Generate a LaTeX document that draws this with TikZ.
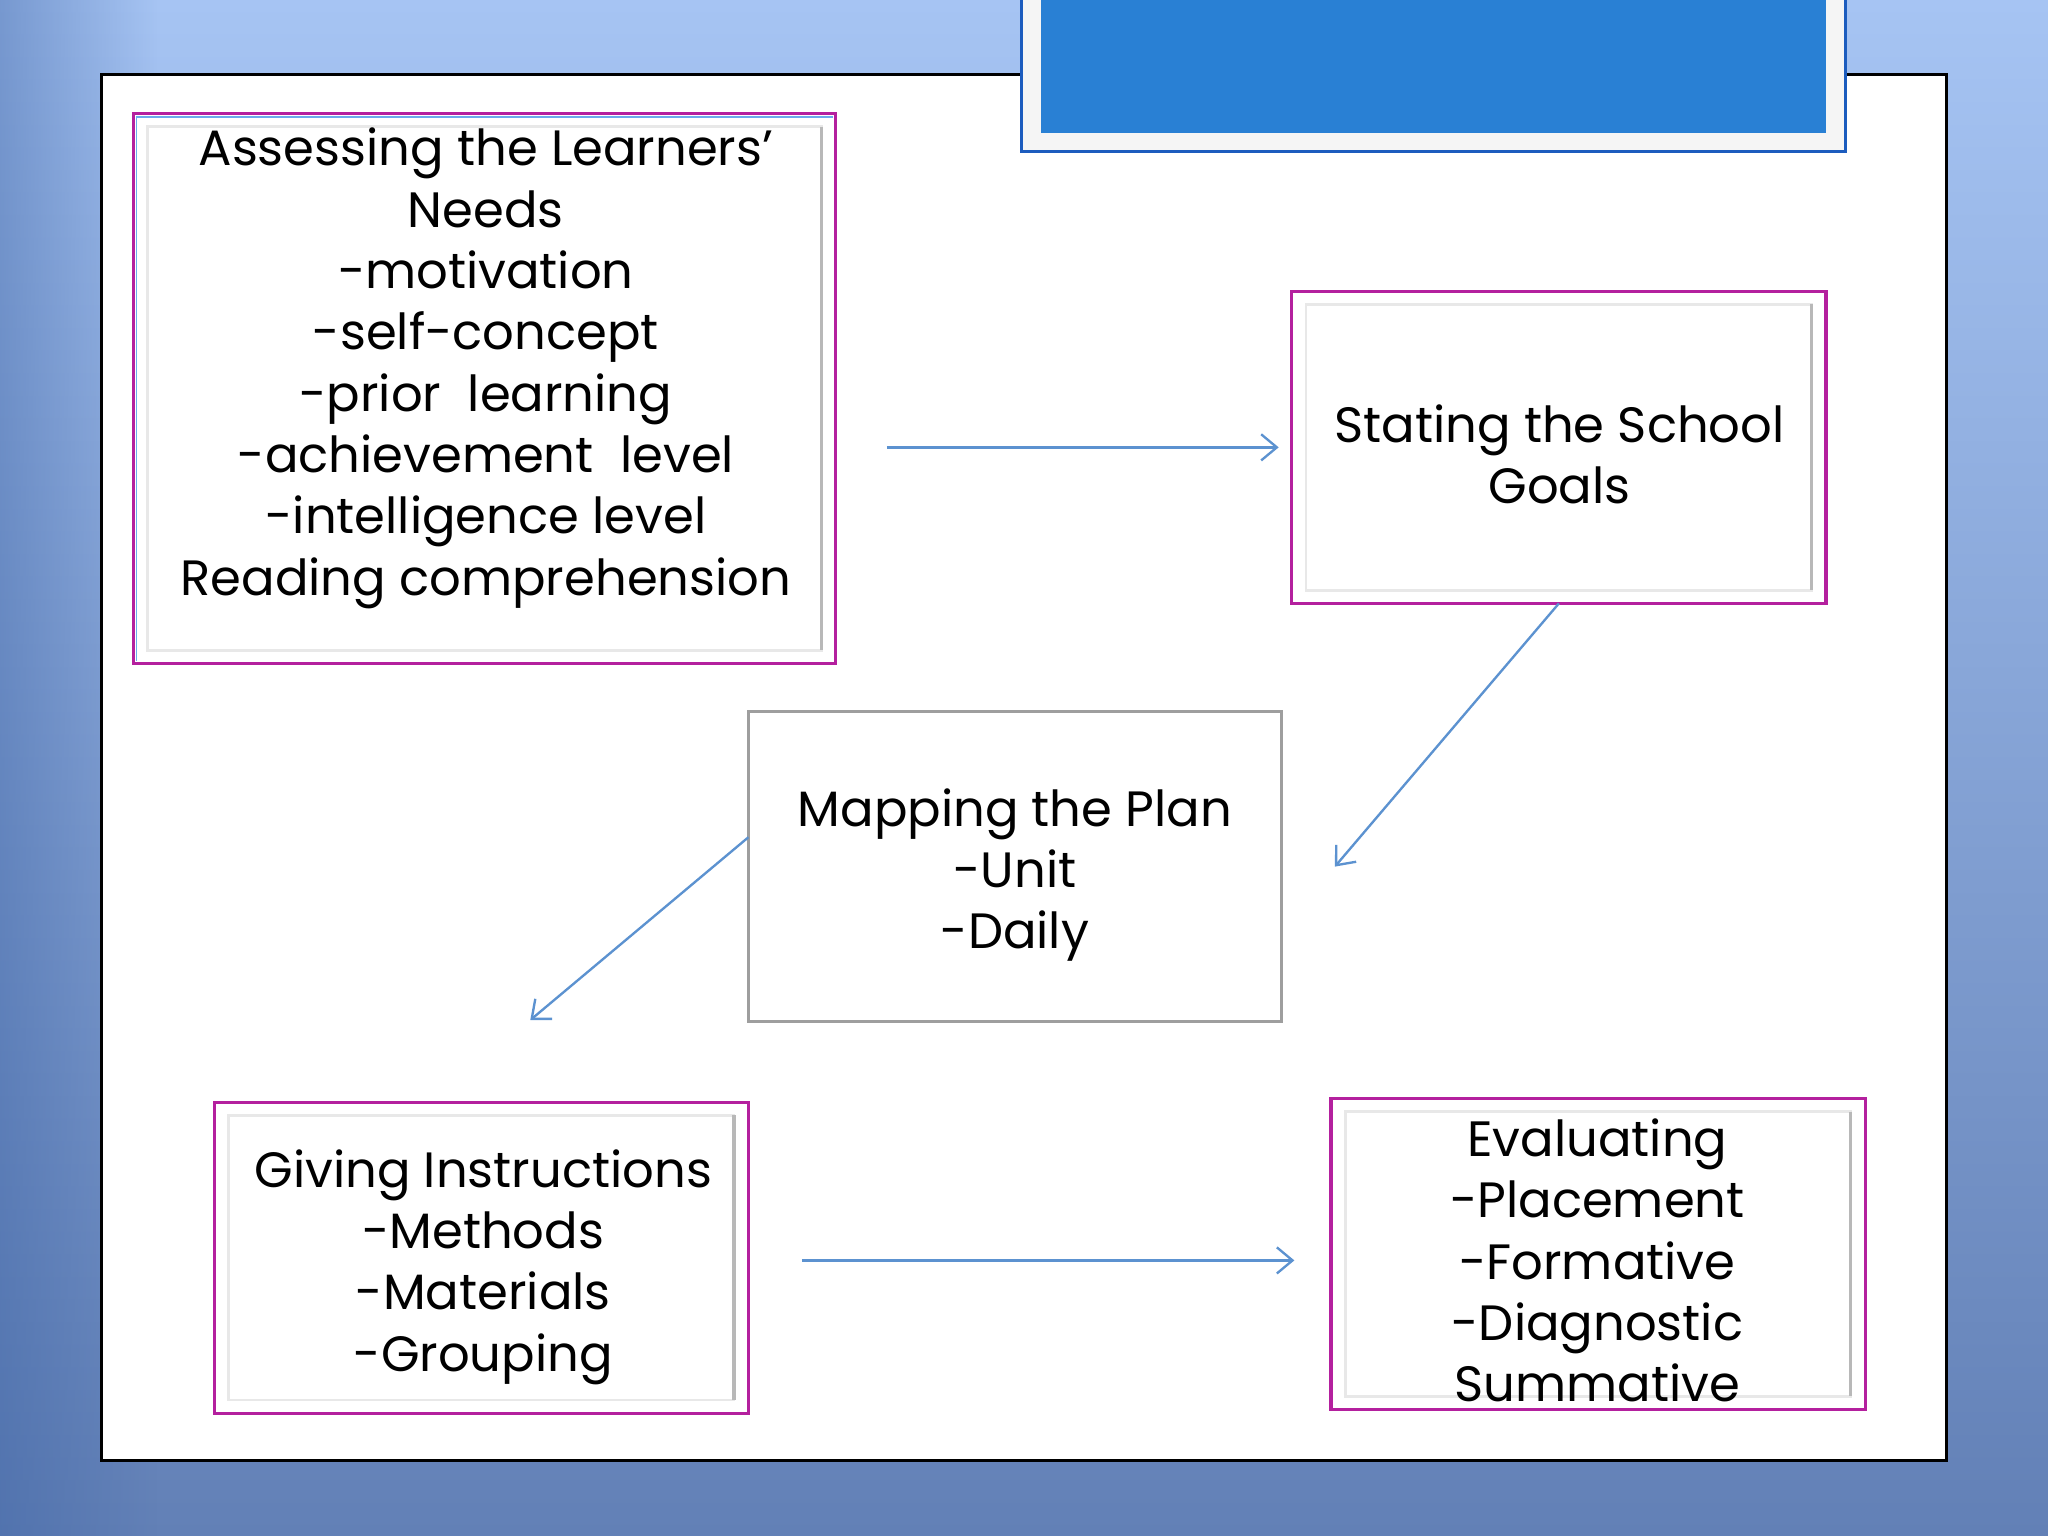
\documentclass[tikz,border=0pt]{standalone}
\usepackage{fontspec}
\setmainfont{Poppins}
\usetikzlibrary{arrows.meta,positioning,fadings}

\definecolor{bgtop}{RGB}{166,196,243}
\definecolor{bgbot}{RGB}{98,128,182}
\definecolor{bgleft}{RGB}{62,100,165}
\definecolor{plum}{RGB}{180,32,158}
\definecolor{skyline}{RGB}{106,170,236}
\definecolor{arrowblue}{RGB}{92,146,208}
\definecolor{titleblue}{RGB}{41,128,212}
\definecolor{titleedge}{RGB}{28,92,190}

\begin{document}
\begin{tikzpicture}[x=0.5pt, y=-0.5pt]
      \tikzstyle{stepbox}=[rectangle, draw=plum, line width=1.2pt, fill=white, outer sep=0pt]
      \tikzstyle{planbox}=[rectangle, draw=black!38, line width=1.2pt, fill=white, outer sep=0pt]
      \tikzstyle{txt}=[align=center, inner sep=0pt, font=\fontsize{19}{23.5}\selectfont]
      \tikzstyle{inner}=[draw=black!9, line width=1pt]
      \tikzstyle{shadow}=[draw=black!28, line width=1.3pt]
      \tikzstyle{connect}=[-{Straight Barb[length=6pt, width=10pt]}, draw=arrowblue, line width=0.9pt]

      \useasboundingbox (0,0) rectangle (1568,1176);
      \shade[top color=bgtop, bottom color=bgbot] (0,0) rectangle (1568,1176);
      \fill[bgleft, path fading=east, opacity=0.45] (0,0) rectangle (120,1176);

      % slide frame and title bar
      \node[rectangle, draw=black, line width=1.2pt, fill=white, outer sep=0pt,
            minimum width=706pt, minimum height=530.5pt] (frame) at (784,587.5) {};
      \node[rectangle, draw=titleedge, line width=1.2pt, fill=black!4, outer sep=0pt,
            minimum width=315.5pt, minimum height=65pt] (title) at (1097.5,51) {};
      \fill[titleblue] ([shift={(15,0)}]title.north west) rectangle ([shift={(-15,-14)}]title.south east);

      % steps
      \node[stepbox, minimum width=269pt, minimum height=210.5pt] (assess) at (371,297.5) {};
      \node[stepbox, minimum width=204.5pt, minimum height=119.5pt] (goals) at (1193.5,342.5) {};
      \node[planbox, minimum width=204pt, minimum height=118.5pt] (mapping) at (777,663.5) {};
      \node[stepbox, minimum width=204.5pt, minimum height=119pt] (giving) at (368.5,963) {};
      \node[stepbox, minimum width=204.5pt, minimum height=119pt] (evaluate) at (1223.5,960) {};

      \draw[skyline, line width=0.7pt] ([shift={(2.5,-2)}]assess.south west) |- ([shift={(-2,2.5)}]assess.north east);
      \foreach \s in {assess, goals, giving, evaluate} {
        \draw[inner] ([shift={(11,10)}]\s.north west) rectangle ([shift={(-11,-10)}]\s.south east);
        \draw[shadow] ([shift={(-11,10)}]\s.north east) -- ([shift={(-11,-10)}]\s.south east);
      }

      \node[txt] (assesstext) at (372,282) {Assessing the Learners'\\Needs\\-motivation\\-self-concept\\-prior\ \ learning\\-achievement\ \ level\\-intelligence level\\Reading comprehension};
      \node[txt] (goalstext) at (1194,348) {Stating the School\\Goals};
      \node[txt] (mappingtext) at (777,670) {Mapping the Plan\\-Unit\\-Daily};
      \node[txt] (givingtext) at (370,970) {Giving Instructions\\-Methods\\-Materials\\-Grouping};
      \node[txt] (evaluatetext) at (1223,965) {Evaluating\\-Placement\\-Formative\\-Diagnostic\\Summative};

      \coordinate (mapin) at ([shift={(41,0)}]mapping.east);
      \coordinate (givein) at (406,781);

      \path ([shift={(39,0)}]assess.east |- goals.west) edge [connect] ([shift={(-10,0)}]goals.west);
      \path (goals.south) edge [connect] (mapin);
      \path ([shift={(0,-22.5)}]mapping.west) edge [connect] (givein);
      \path ([shift={(41,2)}]giving.east) edge [connect] ([shift={(-28,5)}]evaluate.west);
\end{tikzpicture}
\end{document}
